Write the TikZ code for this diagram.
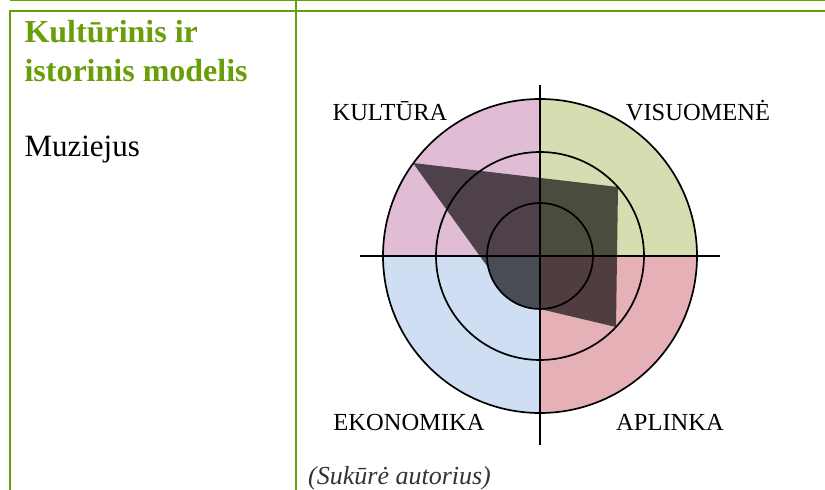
\documentclass[tikz,border=0pt]{standalone}
\usepackage{fontspec}
\setmainfont{Liberation Serif}
\definecolor{FrameGreen}{RGB}{104,158,8}
\definecolor{FilledKultura}{RGB}{224,189,212}
\definecolor{FilledVisuomene}{RGB}{214,222,177}
\definecolor{FilledEkonomika}{RGB}{207,222,242}
\definecolor{FilledAplinka}{RGB}{229,176,182}
\usetikzlibrary{calc}

\begin{document}
\begin{tikzpicture}[x=1pt, y=1pt]

\useasboundingbox (0,0) rectangle (825,490);

%% Lentelės rėmas
\draw [FrameGreen, line width=1.6pt] (10,489.3) -- (825,489.3);
\draw [FrameGreen, line width=2.6pt] (9,478.8) -- (825,478.8);
\draw [FrameGreen, line width=2.2pt] (10.3,478.8) -- (10.3,0);
\draw [FrameGreen, line width=2.2pt] (296.3,490) -- (296.3,0);

\node [anchor=base west, FrameGreen, font=\bfseries\fontsize{32}{38}\selectfont] (title1) at (21,447) {Kultūrinis ir};
\node [anchor=base west, FrameGreen, font=\bfseries\fontsize{32}{38}\selectfont] (title2) at (21,408) {istorinis modelis};
\node [anchor=base west, font=\fontsize{31}{37}\selectfont] (muziejus) at (21,333) {Muziejus};

%% Diagrama
\coordinate (O) at (540,234);

% Ketvirčiai
\fill [FilledKultura] (O) -- ++(90:157) arc [start angle=90, end angle=180, radius=157] -- cycle;
\fill [FilledVisuomene] (O) -- ++(0:157) arc [start angle=0, end angle=90, radius=157] -- cycle;
\fill [FilledEkonomika] (O) -- ++(180:157) arc [start angle=180, end angle=270, radius=157] -- cycle;
\fill [FilledAplinka] (O) -- ++(270:157) arc [start angle=270, end angle=360, radius=157] -- cycle;

% Vertinimo daugiakampis
\coordinate (P1) at (413,327);
\coordinate (P2) at (618,303);
\coordinate (P3) at (616,163);
\coordinate (P4) at ($(O)+(270:53)$);
\fill [black, fill opacity=0.65] (P1) -- (P2) -- (P3) -- (P4)
      arc [start angle=270, end angle=193, radius=53] -- cycle;

% Apskritimai ir ašys
\foreach \r in {53,104,157}
  \draw [line width=1.7pt] (O) circle (\r);
\draw [line width=1.7pt] (360,234) -- (720,234);
\draw [line width=1.7pt] (540,45) -- (540,405);

\node [anchor=base, font=\fontsize{24.5}{29}\selectfont] (kultura) at (390,369) {KULTŪRA};
\node [anchor=base, font=\fontsize{24.5}{29}\selectfont] (visuomene) at (698,369) {VISUOMENĖ};
\node [anchor=base, font=\fontsize{24.5}{29}\selectfont] (ekonomika) at (409,59) {EKONOMIKA};
\node [anchor=base, font=\fontsize{24.5}{29}\selectfont] (aplinka) at (670,59) {APLINKA};

\node [anchor=base west, inner sep=0pt, text=black!80, font=\itshape\fontsize{26}{31}\selectfont] (saltinis) at (308,5) {(Sukūrė autorius)};

\end{tikzpicture}
\end{document}
